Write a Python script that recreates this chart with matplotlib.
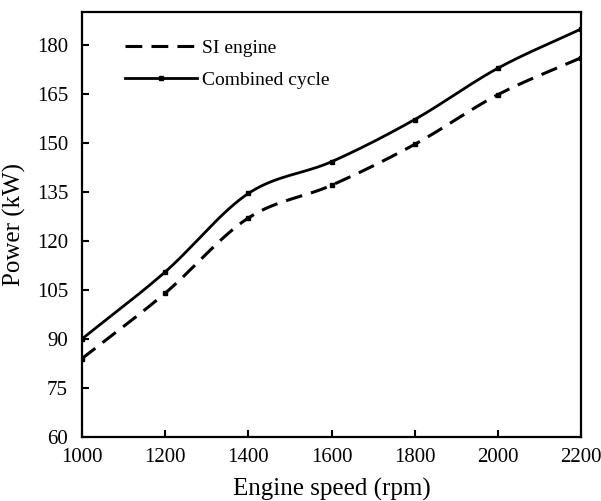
import numpy as np
import matplotlib
matplotlib.use('Agg')
import matplotlib.pyplot as plt

speed = [1000, 1200, 1400, 1600, 1800, 2000, 2200]
si_engine = [84.0, 104.0, 127.0, 137.0, 149.5, 164.7, 176.0]
combined = [90.0, 110.5, 134.5, 144.2, 157.1, 172.8, 184.8]


def smooth(x, y, n=30):
    # catmull-rom curve through the points, like excel's smoothed line
    x = np.asarray(x, float)
    y = np.asarray(y, float)
    px = np.concatenate([[2*x[0]-x[1]], x, [2*x[-1]-x[-2]]])
    py = np.concatenate([[2*y[0]-y[1]], y, [2*y[-1]-y[-2]]])
    xs, ys = [], []
    t = np.linspace(0, 1, n)
    for i in range(1, len(px)-2):
        for p, out in ((px, xs), (py, ys)):
            p0, p1, p2, p3 = p[i-1], p[i], p[i+1], p[i+2]
            out.extend(0.5*((2*p1) + (-p0+p2)*t + (2*p0-5*p1+4*p2-p3)*t**2
                            + (-p0+3*p1-3*p2+p3)*t**3))
    return np.array(xs), np.array(ys)


plt.rcParams['font.family'] = ['Liberation Serif', 'DejaVu Serif']

fig = plt.figure(figsize=(6.01, 5.01), dpi=100)
ax = fig.add_axes([82/601, 64/501, 499/601, 425/501])

dash = (0, (5.5, 3))
sx, sy = smooth(speed, si_engine)
cx, cy = smooth(speed, combined)
ax.plot(sx, sy, color='black', lw=2.2, ls=dash)
ax.plot(cx, cy, color='black', lw=2.0)
ax.plot(speed, si_engine, ls='none', marker='s', ms=2.5, color='black')
ax.plot(speed, combined, ls='none', marker='s', ms=3, color='black')

# legend handles
ax.plot([], [], color='black', lw=2.2, ls=dash, label='SI engine')
ax.plot([], [], color='black', lw=2.0, marker='s', ms=3, label='Combined cycle')
handles, labels = ax.get_legend_handles_labels()
ax.legend(handles, labels, loc='upper left', bbox_to_anchor=(0.07, 0.955),
          frameon=False, fontsize=14, handlelength=3.7, handletextpad=0.3,
          labelspacing=0.75, borderaxespad=0)

ax.set_xlim(1000, 2200)
ax.set_ylim(60, 190)
ax.set_xticks(speed)
ax.set_yticks(np.arange(60, 181, 15))
ax.tick_params(direction='in', length=5, width=1.5, labelsize=15, pad=8)
ax.tick_params(axis='y', pad=10)
for s in ax.spines.values():
    s.set_linewidth(1.6)

ax.set_xlabel('Engine speed (rpm)', fontsize=18, labelpad=8)
ax.set_ylabel('Power (kW)', fontsize=18, labelpad=8)

fig.savefig('out.png', dpi=100)
